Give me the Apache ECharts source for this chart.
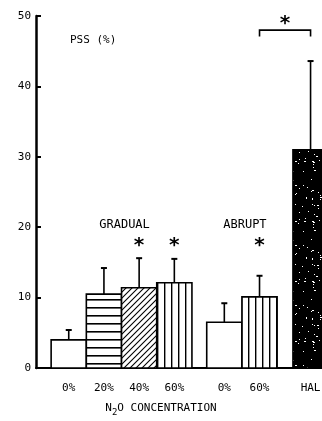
<!DOCTYPE html>
<html><head><meta charset="utf-8">
<script src="https://cdn.jsdelivr.net/npm/echarts@6/dist/echarts.min.js"></script>
<style>html,body{margin:0;padding:0;background:#fff}#c{width:322px;height:421px}</style>
</head><body><div id="c"></div>
<script>
// ---- data ----
const categories = ['0%', '20%', '40%', '60%', '0%', '60%', 'HAL'];
const groupOf = ['GRADUAL', 'GRADUAL', 'GRADUAL', 'GRADUAL', 'ABRUPT', 'ABRUPT', 'HAL'];
const values = [4.0, 10.5, 11.4, 12.1, 6.5, 10.1, 31.0];
const errorTop = [5.4, 14.2, 15.6, 15.5, 9.2, 13.1, 43.6];
const patterns = ['open', 'horizontal', 'diagonal', 'vertical', 'open', 'vertical', 'stipple'];
const significant = [false, false, true, true, false, true, false];
const groupLabels = ['GRADUAL', 'ABRUPT'];
const bracketPair = [5, 6]; // ABRUPT 60% vs HAL
const yTicks = [0, 10, 20, 30, 40, 50];
const yTitle = 'PSS (%)';

// ---- layout (not data) ----
const FONT = '"DejaVu Sans Mono", monospace';
const GAP = { ABRUPT: 0.42, HAL: 0.45 };
const centers = [];
{
  let x = 0.5, prev = groupOf[0];
  groupOf.forEach((g, i) => {
    if (i > 0) { x += 1; if (g !== prev) x += GAP[g]; }
    centers.push(x); prev = g;
  });
}

function makePattern(kind) {
  const c = document.createElement('canvas');
  const ctx = c.getContext('2d');
  if (kind === 'horizontal') {
    c.width = 8; c.height = 8;
    ctx.fillStyle = '#fff'; ctx.fillRect(0, 0, 8, 8);
    ctx.fillStyle = '#000'; ctx.fillRect(0, 3, 8, 1.6);
  } else if (kind === 'vertical') {
    c.width = 7; c.height = 7;
    ctx.fillStyle = '#fff'; ctx.fillRect(0, 0, 7, 7);
    ctx.fillStyle = '#000'; ctx.fillRect(3, 0, 1.4, 7);
  } else if (kind === 'diagonal') {
    c.width = 6; c.height = 6;
    ctx.fillStyle = '#fff'; ctx.fillRect(0, 0, 6, 6);
    ctx.strokeStyle = '#000'; ctx.lineWidth = 1.1;
    ctx.beginPath();
    ctx.moveTo(-1, 7); ctx.lineTo(7, -1);
    ctx.moveTo(-4, 4); ctx.lineTo(4, -4);
    ctx.moveTo(2, 10); ctx.lineTo(10, 2);
    ctx.stroke();
  } else if (kind === 'stipple') {
    c.width = 40; c.height = 60;
    ctx.fillStyle = '#000'; ctx.fillRect(0, 0, 40, 60);
    ctx.fillStyle = '#fff';
    let s = 12345;
    const rnd = () => { s = (s * 1103515245 + 12345) % 2147483648; return s / 2147483648; };
    for (let k = 0; k < 55; k++) {
      ctx.fillRect(Math.floor(rnd() * 40), Math.floor(rnd() * 60), rnd() < 0.3 ? 2 : 1, 1);
    }
  } else {
    return '#fff';
  }
  return { image: c, repeat: 'repeat' };
}
const fills = {};
['open', 'horizontal', 'diagonal', 'vertical', 'stipple'].forEach(k => fills[k] = makePattern(k));

const barData = values.map((v, i) => [i, centers[i], v, errorTop[i]]);
const STAR_LEVEL = 17.8;

const chart = echarts.init(document.getElementById('c'), null, { renderer: 'canvas' });
chart.setOption({
  animation: false,
  backgroundColor: '#fff',
  grid: { left: 36, right: 0, top: 16, bottom: 53, containLabel: false },
  xAxis: {
    type: 'value', min: -0.43, max: 7.695,
    axisLine: { show: true, onZero: false, lineStyle: { color: '#000', width: 2 } },
    axisTick: { show: false }, axisLabel: { show: false }, splitLine: { show: false }
  },
  yAxis: {
    type: 'value', min: yTicks[0], max: yTicks[yTicks.length - 1], interval: yTicks[1] - yTicks[0],
    axisLine: { show: true, onZero: false, lineStyle: { color: '#000', width: 2.5 } },
    axisTick: { show: true, inside: true, length: 5, lineStyle: { color: '#000', width: 2 } },
    axisLabel: { color: '#000', fontSize: 11, fontFamily: FONT, margin: 5 },
    splitLine: { show: false }
  },
  graphic: [
    { type: 'text', left: 70, top: 35, style: { text: yTitle, font: '11px ' + FONT, fill: '#000' } },
    { type: 'text', left: 'center', top: 403, style: {
        text: '{n|N}{s|2}{n|O CONCENTRATION}',
        rich: { n: { fontSize: 11, fontFamily: FONT, fill: '#000', verticalAlign: 'top' },
                s: { fontSize: 9, fontFamily: FONT, fill: '#000', padding: [5, 0, 0, 0] } } } }
  ],
  series: [
    {
      type: 'custom',
      data: barData,
      encode: { x: [1], y: [2, 3] },
      renderItem: function (params, api) {
        const i = api.value(0), c = api.value(1), v = api.value(2), e = api.value(3);
        const tl = api.coord([c - 0.5, v]);
        const br = api.coord([c + 0.5, 0]);
        const top = api.coord([c, v]);
        const et = api.coord([c, e]);
        const lbl = api.coord([c, 0]);
        const children = [
          { type: 'line', shape: { x1: top[0], y1: top[1], x2: et[0], y2: et[1] },
            style: { stroke: '#000', lineWidth: 1.6 } },
          { type: 'line', shape: { x1: et[0] - 3, y1: et[1], x2: et[0] + 3, y2: et[1] },
            style: { stroke: '#000', lineWidth: 2 } },
          { type: 'rect', shape: { x: tl[0], y: tl[1], width: br[0] - tl[0], height: br[1] - tl[1] },
            style: { fill: fills[patterns[i]], stroke: '#000', lineWidth: 1.6 } },
          { type: 'text', x: lbl[0], y: lbl[1] + 20,
            style: { text: categories[i], font: '11px ' + FONT, fill: '#000', align: 'center', verticalAlign: 'middle' } }
        ];
        if (significant[i]) {
          const sp = api.coord([c, STAR_LEVEL]);
          children.push({ type: 'text', x: sp[0], y: sp[1] + 3,
            style: { text: '*', font: 'bold 20px ' + FONT, fill: '#000', align: 'center', verticalAlign: 'middle' } });
        }
        return { type: 'group', children };
      }
    },
    {
      type: 'custom',
      data: [[centers[bracketPair[0]], centers[bracketPair[1]], 48.0, 47.1]],
      encode: { x: [0, 1], y: [2] },
      renderItem: function (params, api) {
        const a = api.coord([api.value(0), api.value(2)]);
        const b = api.coord([api.value(1), api.value(2)]);
        const d = api.coord([api.value(0), api.value(3)]);
        const mid = (a[0] + b[0]) / 2;
        return { type: 'group', children: [
          { type: 'polyline', shape: { points: [[a[0], d[1]], a, b, [b[0], d[1]]] },
            style: { stroke: '#000', lineWidth: 1.6, fill: null } },
          { type: 'text', x: mid, y: a[1] - 6,
            style: { text: '*', font: 'bold 20px ' + FONT, fill: '#000', align: 'center', verticalAlign: 'middle' } }
        ] };
      }
    },
    {
      type: 'custom',
      data: groupLabels.map(g => {
        const idx = groupOf.map((x, i) => x === g ? i : -1).filter(i => i >= 0);
        return [(centers[idx[0]] + centers[idx[idx.length - 1]]) / 2, 20.3, g];
      }),
      encode: { x: [0], y: [1] },
      renderItem: function (params, api) {
        const p = api.coord([api.value(0), api.value(1)]);
        return { type: 'text', x: p[0] + 3, y: p[1],
          style: { text: groupLabels[params.dataIndex], font: '12px ' + FONT, fill: '#000', align: 'center', verticalAlign: 'middle' } };
      }
    }
  ]
});
</script></body></html>
